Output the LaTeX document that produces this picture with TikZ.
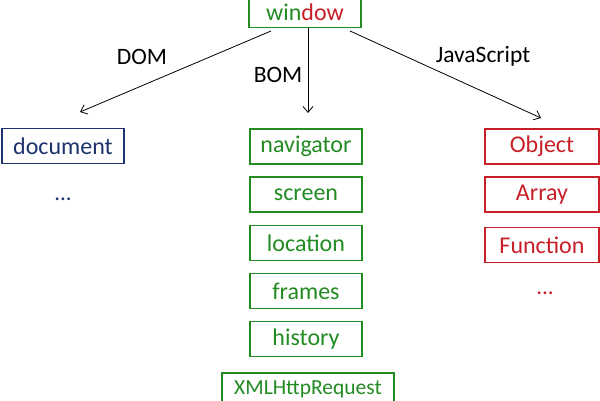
\documentclass[tikz,border=0pt]{standalone}
\usepackage{fontspec}
\setmainfont{Carlito}
\usetikzlibrary{arrows.meta}
\definecolor{bomgreen}{RGB}{34,139,34}
\definecolor{jsred}{RGB}{200,30,40}
\definecolor{domblue}{RGB}{30,50,110}
\tikzset{
  box/.style={draw, line width=1.1pt, minimum height=35pt, inner sep=0pt, font=\fontsize{24}{28}\selectfont},
  gbox/.style={box, draw=bomgreen, text=bomgreen, minimum width=112pt},
  rbox/.style={box, draw=jsred, text=jsred, minimum width=114pt},
  bbox/.style={box, draw=domblue, text=domblue, minimum width=122pt},
  lbl/.style={font=\fontsize{23.5}{28}\selectfont, text=black},
  dots/.style={font=\fontsize{23}{28}\selectfont},
  arr/.style={-{Straight Barb[length=6pt,width=10pt]}, line width=0.8pt}
}
\begin{document}
\begin{tikzpicture}[x=1pt,y=-1pt]
\useasboundingbox (0,0) rectangle (600,400);
\node[gbox, minimum height=31pt] (win) at (305,12) {\textcolor{bomgreen}{win}\textcolor{jsred}{dow}};
\node[bbox] (doc) at (63,146) {document};
\node[dots, text=domblue] (docdots) at (63,199) {...};
\node[gbox] (nav) at (306,146.5) {navigator};
\node[gbox] (scr) at (306,194.5) {screen};
\node[gbox] (loc) at (306,243) {location};
\node[gbox] (fra) at (306,291) {frames};
\node[gbox] (his) at (306,339) {history};
\node[gbox, minimum width=172pt, minimum height=33pt, font=\fontsize{21.5}{26}\selectfont] (xhr) at (308,389.5) {XMLHttpRequest};
\node[rbox] (obj) at (542,146.5) {Object};
\node[rbox] (arr) at (542,194.5) {Array};
\node[rbox] (fun) at (542,245) {Function};
\node[dots, text=jsred] (jsdots) at (545,293) {...};
\coordinate (d1) at (271,31);
\coordinate (d2) at (80,112);
\coordinate (b1) at (308,28);
\coordinate (b2) at (308,113);
\coordinate (j1) at (350,31);
\coordinate (j2) at (541,118);
\draw[arr] (d1) -- (d2);
\draw[arr] (b1) -- (b2);
\draw[arr] (j1) -- (j2);
\node[lbl] (ldom) at (142,57) {DOM};
\node[lbl] (lbom) at (278,75) {BOM};
\node[lbl] (ljs) at (483,56) {JavaScript};
\end{tikzpicture}
\end{document}
